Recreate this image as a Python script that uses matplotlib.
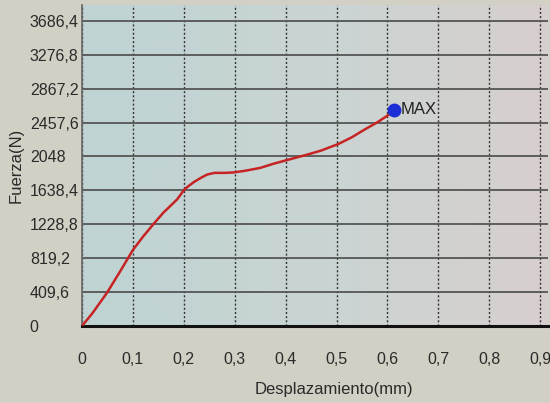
import matplotlib
matplotlib.use('Agg')
import matplotlib.pyplot as plt
import numpy as np

# values
desp = [0, 0.02, 0.049, 0.075, 0.1, 0.12, 0.14, 0.16, 0.187, 0.2, 0.207, 0.22,
        0.235, 0.246, 0.26, 0.28, 0.297, 0.32, 0.35, 0.376, 0.4, 0.445, 0.47,
        0.504, 0.53, 0.557, 0.58, 0.602]
fuerza = [0, 150, 400, 660, 918, 1080, 1228, 1370, 1530, 1640, 1680, 1740,
          1795, 1830, 1850, 1850, 1855, 1875, 1910, 1960, 2000, 2075, 2120,
          2200, 2280, 2380, 2460, 2550]
max_x, max_y = 0.612, 2610

yticks = [0, 409.6, 819.2, 1228.8, 1638.4, 2048, 2457.6, 2867.2, 3276.8, 3686.4]
ylabels = ['0', '409,6', '819,2', '1228,8', '1638,4', '2048', '2457,6', '2867,2', '3276,8', '3686,4']
xticks = [0, 0.1, 0.2, 0.3, 0.4, 0.5, 0.6, 0.7, 0.8, 0.9]
xlabels = ['0', '0,1', '0,2', '0,3', '0,4', '0,5', '0,6', '0,7', '0,8', '0,9']

plt.rcParams['font.family'] = ['Liberation Sans', 'DejaVu Sans']

fig = plt.figure(figsize=(5.5, 4.03), dpi=100)
fig.patch.set_facecolor('#d2cfc4')
ax = fig.add_axes([0.149, 0.191, 0.847, 0.797])

# screen-like background, bluish on the left to pinkish on the right
grad = np.linspace(0, 1, 256).reshape(1, -1)
cmap = matplotlib.colors.LinearSegmentedColormap.from_list('bg', ['#bfd3d3', '#c9d5d3', '#d8cfcf'])
ax.imshow(grad, cmap=cmap, aspect='auto', extent=[0, 1, 0, 1],
          transform=ax.transAxes, zorder=0)

ax.plot(desp, fuerza, color='#c62424', lw=1.8, zorder=3)
ax.plot(max_x, max_y, 'o', color='#1c2fd6', ms=9, zorder=4)
ax.text(max_x + 0.013, max_y, 'MAX', fontsize=12, color='#222222', va='center', ha='left')

ax.set_xlim(0, 0.915)
ax.set_ylim(0, 3880)
ax.set_xticks(xticks)
ax.set_xticklabels(xlabels)
ax.set_yticks(yticks)
ax.set_yticklabels(ylabels)
for lab in ax.get_yticklabels():
    lab.set_ha('left')
ax.tick_params(axis='y', length=0, pad=37.5, labelsize=11.5, labelcolor='#2a2a2a')
ax.tick_params(axis='x', length=0, pad=19, labelsize=11.5, labelcolor='#2a2a2a')

ax.grid(axis='y', color='#555555', lw=1.3, ls='-', zorder=1)
ax.grid(axis='x', color='#333333', lw=1.0, ls=(0, (1.5, 1.5)), zorder=1)
ax.set_axisbelow(True)

for s in ['top', 'right']:
    ax.spines[s].set_visible(False)
ax.spines['bottom'].set_color('#111111')
ax.spines['bottom'].set_linewidth(2.2)
ax.spines['left'].set_color('#666666')
ax.spines['left'].set_linewidth(1.2)

ax.set_ylabel('Fuerza(N)', fontsize=12, color='#2a2a2a')
ax.yaxis.set_label_coords(-0.125, 0.5)
ax.set_xlabel('Desplazamiento(mm)', fontsize=12, color='#2a2a2a')
ax.xaxis.set_label_coords(0.54, -0.175)

fig.savefig('out.png', dpi=100, facecolor=fig.get_facecolor())
